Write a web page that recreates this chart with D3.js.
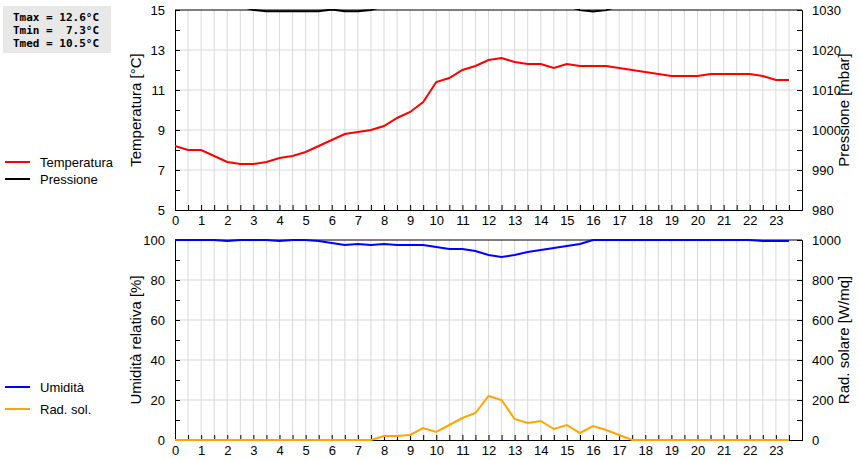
<!DOCTYPE html><html><head><meta charset="utf-8">
<script src="https://cdn.jsdelivr.net/npm/d3@7"></script>
<style>body{margin:0;background:#fff}</style></head><body>
<svg id="c" width="860" height="460"></svg>
<script>
const hours = d3.range(0, 24, 0.5);
const temperature = [8.2,8.0,8.0,7.7,7.4,7.3,7.3,7.4,7.6,7.7,7.9,8.2,8.5,8.8,8.9,9.0,9.2,9.6,9.9,10.4,11.4,11.6,12.0,12.2,12.5,12.6,12.4,12.3,12.3,12.1,12.3,12.2,12.2,12.2,12.1,12.0,11.9,11.8,11.7,11.7,11.7,11.8,11.8,11.8,11.8,11.7,11.5,11.5];
const pressure = [1031,1031,1031,1031,1031,1031,1030,1029.7,1029.7,1029.7,1029.7,1029.7,1030.1,1029.7,1029.7,1030,1031,1031,1031,1031,1031,1031,1031,1031,1031,1031,1031,1031,1031,1031,1031,1030,1029.6,1030,1031,1031,1031,1031,1031,1031,1031,1031,1031,1031,1031,1031,1031,1031];
const humidity = [100,100,100,100,99.5,100,100,100,99.5,100,100,99.5,98.5,97.5,98,97.5,98,97.5,97.5,97.5,96.5,95.5,95.5,94.5,92.5,91.5,92.5,94,95,96,97,98,100,100,100,100,100,100,100,100,100,100,100,100,100,99.5,99.5,99.5];
const solar = [0,0,0,0,0,0,0,0,0,0,0,0,0,0,0,0,20,20,25,60,40,75,110,135,220,200,105,85,95,55,75,35,70,50,25,0,0,0,0,0,0,0,0,0,0,0,0,0];
const xTicks = d3.range(0, 24);
const tTicks = [5,7,9,11,13,15], pTicks = [980,990,1000,1010,1020,1030];
const hTicks = [0,20,40,60,80,100], sTicks = [0,200,400,600,800,1000];

const svg = d3.select("#c");
const L = 175, R = 802;
const x = d3.scaleLinear().domain([0,24]).range([L,R]);
const font = "Liberation Sans, Arial, sans-serif";

function panel(top, bot, yl, yr, ylT, yrT, lt, rt, id, lineDefs) {
  const g = svg.append("g");
  g.append("clipPath").attr("id", id).append("rect").attr("x", L).attr("y", top-1).attr("width", R-L).attr("height", bot-top+2);
  d3.range(0.5, 24, 0.5).forEach(h => g.append("line").attr("x1", x(h)).attr("x2", x(h)).attr("y1", top).attr("y2", bot).attr("stroke", "#d9d9d9"));
  ylT.slice(1,-1).forEach(v => g.append("line").attr("x1", L).attr("x2", R).attr("y1", yl(v)).attr("y2", yl(v)).attr("stroke", "#d9d9d9"));
  const ax = g.append("g").attr("transform", `translate(0,${bot})`).call(d3.axisBottom(x).tickValues(d3.range(0,24,0.5)).tickSize(-5).tickFormat(d => Number.isInteger(d) ? d : ""));
  const axL = g.append("g").attr("transform", `translate(${L},0)`).call(d3.axisLeft(yl).tickValues(d3.range(ylT[0], ylT[ylT.length-1]+0.001, (ylT[1]-ylT[0])/2)).tickSize(-5).tickFormat(d => ylT.includes(d) ? d : ""));
  const axR = g.append("g").attr("transform", `translate(${R},0)`).call(d3.axisRight(yr).tickValues(d3.range(yrT[0], yrT[yrT.length-1]+0.001, (yrT[1]-yrT[0])/2)).tickSize(-5).tickFormat(d => yrT.includes(d) ? d : ""));
  ax.selectAll("text").attr("dy", "0.9em").attr("y", 3);
  axL.selectAll("text").attr("x", -10);
  axR.selectAll("text").attr("x", 10);
  [ax, axL, axR].forEach(a => { a.selectAll("text").attr("font-size", 13).attr("font-family", font).attr("fill", "#000"); a.select(".domain").attr("stroke", "#000"); });
  g.append("line").attr("x1", L).attr("x2", R).attr("y1", top).attr("y2", top).attr("stroke", "#000");
  g.append("text").attr("transform", `translate(141,${(top+bot)/2}) rotate(-90)`).attr("text-anchor", "middle").attr("font-size", 15).attr("font-family", font).text(lt);
  g.append("text").attr("transform", `translate(849,${(top+bot)/2}) rotate(-90)`).attr("text-anchor", "middle").attr("font-size", 15).attr("font-family", font).text(rt);
  lineDefs.forEach(([data, sc, col]) => {
    g.append("path").attr("clip-path", `url(#${id})`).attr("fill", "none").attr("stroke", col).attr("stroke-width", 2)
      .attr("d", d3.line().x((d,i) => x(hours[i])).y(d => sc(d))(data));
  });
}
const yT = d3.scaleLinear().domain([5,15]).range([210,10]);
const yP = d3.scaleLinear().domain([980,1030]).range([210,10]);
const yH = d3.scaleLinear().domain([0,100]).range([440,240]);
const yS = d3.scaleLinear().domain([0,1000]).range([440,240]);
panel(10, 210, yT, yP, tTicks, pTicks, "Temperatura [°C]", "Pressione [mbar]", "c1", [[pressure, yP, "#000"], [temperature, yT, "#ff0000"]]);
panel(240, 440, yH, yS, hTicks, sTicks, "Umidità relativa [%]", "Rad. solare [W/mq]", "c2", [[humidity, yH, "#0000ff"], [solar, yS, "#ffa500"]]);

svg.append("rect").attr("x", 3).attr("y", 6).attr("width", 108).attr("height", 47).attr("fill", "#e8e8e8");
const tmax = d3.max(temperature), tmin = d3.min(temperature), tmed = 10.5;
["Tmax = " + tmax.toFixed(1) + "°C", "Tmin =  " + tmin.toFixed(1) + "°C", "Tmed = " + tmed.toFixed(1) + "°C"].forEach((s,i) =>
  svg.append("text").attr("x", 13).attr("y", 21 + i*13).attr("font-family", "DejaVu Sans Mono, monospace").attr("font-weight", "bold").attr("font-size", 11).attr("xml:space", "preserve").style("white-space", "pre").text(s));
[["Temperatura", "#ff0000", 162], ["Pressione", "#000", 179], ["Umidità", "#0000ff", 387], ["Rad. sol.", "#ffa500", 409]].forEach(([t,c,y]) => {
  svg.append("line").attr("x1", 5).attr("x2", 30).attr("y1", y).attr("y2", y).attr("stroke", c).attr("stroke-width", 2);
  svg.append("text").attr("x", 40).attr("y", y+5).attr("font-family", font).attr("font-size", 13).text(t);
});
</script></body></html>
